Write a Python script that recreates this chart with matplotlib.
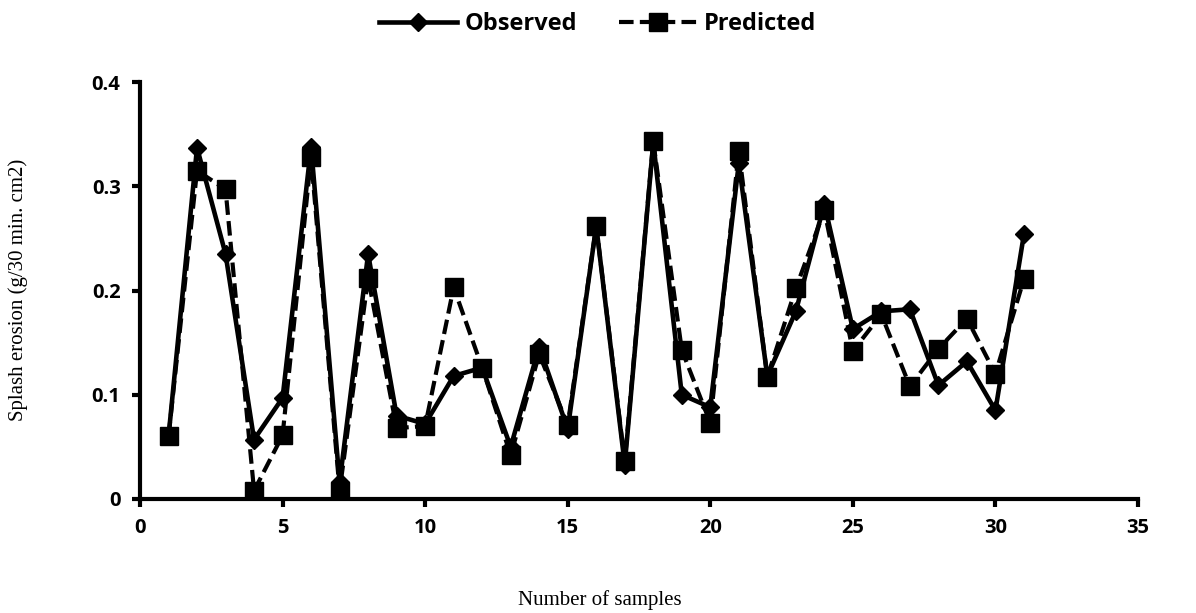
import matplotlib
matplotlib.use("Agg")
import matplotlib.pyplot as plt

samples = list(range(1, 32))
observed = [0.060, 0.337, 0.235, 0.057, 0.097, 0.338, 0.016, 0.235, 0.080, 0.072,
            0.118, 0.126, 0.050, 0.146, 0.067, 0.262, 0.033, 0.342, 0.100, 0.088,
            0.322, 0.118, 0.180, 0.283, 0.163, 0.180, 0.182, 0.109, 0.132, 0.085,
            0.254]
predicted = [0.060, 0.315, 0.297, 0.008, 0.061, 0.328, 0.008, 0.212, 0.068, 0.070,
             0.203, 0.126, 0.042, 0.139, 0.071, 0.262, 0.036, 0.343, 0.143, 0.073,
             0.334, 0.117, 0.202, 0.277, 0.142, 0.177, 0.108, 0.144, 0.173, 0.120,
             0.211]

fig = plt.figure(figsize=(11.96, 6.13), dpi=100)
ax = fig.add_axes([140 / 1196, 1 - 499 / 613, (1138 - 140) / 1196, (499 - 82) / 613])

ax.plot(samples, predicted, c="black", ls=(0, (3.5, 1.5)), lw=3, marker="s", ms=13,
        label="Predicted", zorder=2)
ax.plot(samples, observed, c="black", ls="-", lw=3.3, marker="D", ms=9,
        label="Observed", zorder=3)

ax.set_xlim(0, 35)
ax.set_ylim(0, 0.4)
ax.set_xticks(range(0, 36, 5))
ax.set_yticks([0, 0.1, 0.2, 0.3, 0.4])
ax.set_yticklabels(["0", "0.1", "0.2", "0.3", "0.4"])

for s in ["top", "right"]:
    ax.spines[s].set_visible(False)
for s in ["left", "bottom"]:
    ax.spines[s].set_linewidth(3)
ax.tick_params(direction="out", length=6, width=3, labelsize=14.5, pad=8)
for lab in ax.get_xticklabels() + ax.get_yticklabels():
    lab.set_fontfamily("Open Sans")
    lab.set_fontweight("bold")

fig.text(600 / 1196, 1 - 600 / 613, "Number of samples", family="Liberation Serif",
         fontsize=15, ha="center", va="center")
fig.text(18 / 1196, 1 - 290 / 613, "Splash erosion (g/30 min. cm2)", family="Liberation Serif",
         fontsize=15, ha="center", va="center", rotation=90)

handles, labels = ax.get_legend_handles_labels()
fig.legend(handles[::-1], labels[::-1], loc="upper center", bbox_to_anchor=(0.5, 1.015),
           ncol=2, frameon=False, prop={"family": "Open Sans", "weight": "bold", "size": 17},
           handlelength=3.3, columnspacing=1.8, handletextpad=0.3)

fig.savefig("out.png", dpi=100)
